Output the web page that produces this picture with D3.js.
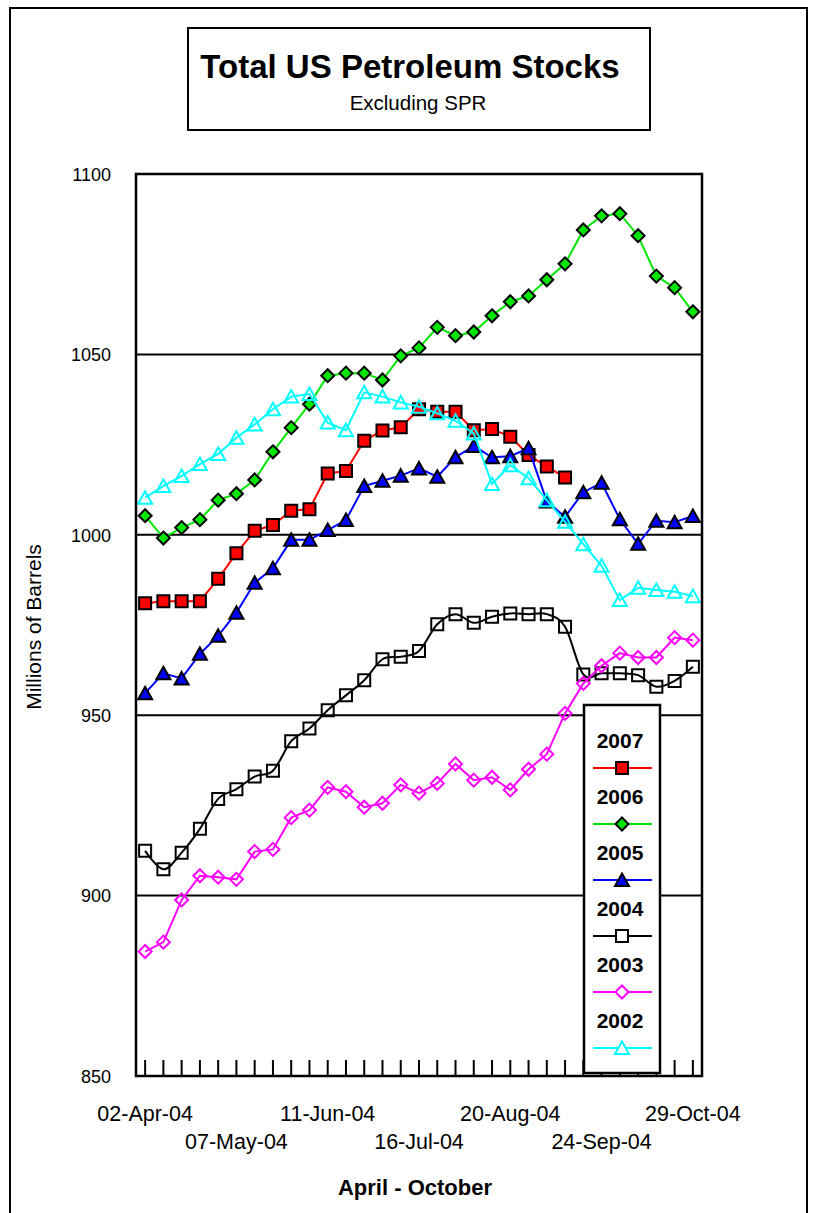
<!DOCTYPE html>
<html><head><meta charset="utf-8">
<script src="https://cdn.jsdelivr.net/npm/d3@7"></script>
<style>
body{margin:0;background:#fff}
svg{display:block}
text{font-family:"Liberation Sans",Arial,Helvetica,sans-serif;fill:#000}
</style>
</head><body>
<svg id="chart" width="813" height="1213"></svg>
<script>
// ---------- DATA ----------
const dates = ["02-Apr-04","09-Apr-04","16-Apr-04","23-Apr-04","30-Apr-04",
  "07-May-04","14-May-04","21-May-04","28-May-04",
  "04-Jun-04","11-Jun-04","18-Jun-04","25-Jun-04",
  "02-Jul-04","09-Jul-04","16-Jul-04","23-Jul-04","30-Jul-04",
  "06-Aug-04","13-Aug-04","20-Aug-04","27-Aug-04",
  "03-Sep-04","10-Sep-04","17-Sep-04","24-Sep-04",
  "01-Oct-04","08-Oct-04","15-Oct-04","22-Oct-04","29-Oct-04"];
const xTickLabels = ["02-Apr-04","07-May-04","11-Jun-04","16-Jul-04","20-Aug-04","24-Sep-04","29-Oct-04"];
const yTickValues = [850, 900, 950, 1000, 1050, 1100];
const seriesNames = ["2007","2006","2005","2004","2003","2002"];

const s2007 = [981.0, 981.6, 981.6, 981.6, 987.8, 994.9, 1001.1, 1002.7, 1006.7, 1007.1,
  1017.0, 1017.7, 1026.1, 1028.9, 1029.8, 1034.8, 1034.1, 1034.1, 1029.0, 1029.3,
  1027.2, 1022.1, 1018.9, 1015.9];
const s2006 = [1005.3, 999.1, 1002.0, 1004.2, 1009.6, 1011.4, 1015.2, 1023.0, 1029.7, 1036.2,
  1044.1, 1044.8, 1044.8, 1042.9, 1049.6, 1051.8, 1057.5, 1055.2, 1056.2, 1060.7,
  1064.6, 1066.2, 1070.7, 1075.1, 1084.5, 1088.4, 1089.0, 1082.9, 1071.7, 1068.5, 1061.8];
const s2005 = [956.1, 961.6, 960.2, 967.0, 972.0, 978.4, 986.7, 990.7, 998.6, 998.6,
  1001.3, 1004.1, 1013.5, 1015.0, 1016.4, 1018.4, 1016.1, 1021.5, 1024.6, 1021.5,
  1021.8, 1024.0, 1009.2, 1005.0, 1011.8, 1014.4, 1004.3, 997.5, 1003.9, 1003.5, 1005.2];
const s2004 = [912.4, 907.3, 911.9, 918.5, 926.8, 929.5, 933.0, 934.6, 942.8, 946.3,
  951.4, 955.5, 959.7, 965.5, 966.2, 967.8, 975.2, 978.0, 975.6, 977.3,
  978.2, 978.0, 978.0, 974.5, 961.3, 961.6, 961.6, 961.1, 957.9, 959.5, 963.4];
const s2003 = [884.5, 887.1, 898.8, 905.5, 905.1, 904.5, 912.2, 912.8, 921.6, 923.7,
  930.0, 928.8, 924.5, 925.6, 930.7, 928.4, 931.1, 936.5, 932.0, 932.8,
  929.3, 935.0, 939.2, 950.5, 958.8, 963.7, 967.2, 966.0, 966.0, 971.5, 970.8];
const s2002 = [1010.3, 1013.5, 1016.3, 1019.6, 1022.4, 1026.9, 1030.6, 1034.8, 1038.3, 1039.0,
  1031.1, 1029.0, 1039.5, 1038.3, 1036.7, 1035.5, 1033.7, 1031.6, 1028.1, 1014.1,
  1019.3, 1015.7, 1009.6, 1003.6, 997.4, 991.4, 981.9, 985.3, 984.7, 984.2, 983.0];

// ---------- STYLES ----------
const shapes = {
  square: "M-6,-6H6V6H-6Z",
  diamond: "M0,-6.5L6.5,0L0,6.5L-6.5,0Z",
  triangle: "M0,-6.5L7,6L-7,6Z"
};
const styles = {
  "2007": {values: s2007, line: "#FF0000", fill: "#FF0000", mstroke: "#000", shape: "square", smooth: false},
  "2006": {values: s2006, line: "#00E600", fill: "#00E600", mstroke: "#000", shape: "diamond", smooth: false},
  "2005": {values: s2005, line: "#0000FF", fill: "#0000FF", mstroke: "#000", shape: "triangle", smooth: false},
  "2004": {values: s2004, line: "#000000", fill: "none", mstroke: "#000", shape: "square", smooth: true},
  "2003": {values: s2003, line: "#FF00FF", fill: "none", mstroke: "#FF00FF", shape: "diamond", smooth: false},
  "2002": {values: s2002, line: "#00FFFF", fill: "none", mstroke: "#00FFFF", shape: "triangle", smooth: false}
};

// ---------- LAYOUT ----------
const svg = d3.select("#chart");
const plot = {left: 136, right: 702, top: 174, bottom: 1076};

const x = d3.scalePoint().domain(dates).range([plot.left, plot.right]).padding(0.5);
const y = d3.scaleLinear().domain([850, 1100]).range([plot.bottom, plot.top]);

// outer frame
svg.append("rect").attr("x", 10).attr("y", 8).attr("width", 797).attr("height", 1230)
  .attr("fill", "#fff").attr("stroke", "#000").attr("stroke-width", 2);

// title box
svg.append("rect").attr("x", 188).attr("y", 28).attr("width", 462).attr("height", 102)
  .attr("fill", "#fff").attr("stroke", "#000").attr("stroke-width", 2);
svg.append("text").attr("x", 410).attr("y", 78).attr("text-anchor", "middle")
  .style("font-size", "33px").style("font-weight", "bold").text("Total US Petroleum Stocks");
svg.append("text").attr("x", 418).attr("y", 110).attr("text-anchor", "middle")
  .style("font-size", "20.5px").text("Excluding SPR");

// plot background
svg.append("rect").attr("x", plot.left).attr("y", plot.top)
  .attr("width", plot.right - plot.left).attr("height", plot.bottom - plot.top)
  .attr("fill", "#fff");

// gridlines
svg.append("g").selectAll("line").data(yTickValues.filter(v => v > 850 && v < 1100)).join("line")
  .attr("x1", plot.left).attr("x2", plot.right)
  .attr("y1", d => y(d)).attr("y2", d => y(d))
  .attr("stroke", "#000").attr("stroke-width", 2);

// y axis labels
const yAxis = d3.axisLeft(y).tickValues(yTickValues).tickSize(0).tickPadding(0).tickFormat(d3.format("d"));
const gy = svg.append("g").attr("transform", `translate(${plot.left - 25},0)`).call(yAxis);
gy.select(".domain").remove();
gy.selectAll("text").style("font-size", "18px").attr("dy", "0.35em")
  .style("font-family", '"Liberation Sans",Arial,sans-serif').attr("fill", "#000");

// x tick marks (inside, upward)
svg.append("g").selectAll("line").data(dates).join("line")
  .attr("x1", d => x(d)).attr("x2", d => x(d))
  .attr("y1", plot.bottom).attr("y2", plot.bottom - 16)
  .attr("stroke", "#000").attr("stroke-width", 2);

// series
const lineGen = d3.line().x((d, i) => x(dates[i])).y(d => y(d));
const layer = svg.append("g");
seriesNames.forEach(name => {
  const st = styles[name];
  const g = layer.append("g");
  g.append("path").datum(st.values)
    .attr("d", lineGen.curve(st.smooth ? d3.curveCardinal.tension(0) : d3.curveLinear))
    .attr("fill", "none").attr("stroke", st.line).attr("stroke-width", 2);
  g.selectAll("path.m").data(st.values).join("path").attr("class", "m")
    .attr("d", shapes[st.shape])
    .attr("transform", (d, i) => `translate(${x(dates[i])},${y(d)})`)
    .attr("fill", st.fill).attr("stroke", st.mstroke).attr("stroke-width", 2);
});

// plot border
svg.append("rect").attr("x", plot.left).attr("y", plot.top)
  .attr("width", plot.right - plot.left).attr("height", plot.bottom - plot.top)
  .attr("fill", "none").attr("stroke", "#000").attr("stroke-width", 2.5);

// x labels
xTickLabels.forEach((lab, k) => {
  svg.append("text").attr("x", x(lab)).attr("y", k % 2 === 0 ? 1121 : 1149)
    .attr("text-anchor", "middle").style("font-size", "21.5px").text(lab);
});

// axis titles
svg.append("text").attr("x", 415).attr("y", 1195).attr("text-anchor", "middle")
  .style("font-size", "22px").style("font-weight", "bold").text("April - October");
svg.append("text").attr("transform", "translate(41,627) rotate(-90)")
  .attr("text-anchor", "middle").style("font-size", "21px").text("Millions of Barrels");

// legend
const lg = svg.append("g");
lg.append("rect").attr("x", 584).attr("y", 705).attr("width", 76).attr("height", 368)
  .attr("fill", "#fff").attr("stroke", "#000").attr("stroke-width", 2.5);
seriesNames.forEach((name, i) => {
  const st = styles[name];
  const base = 748 + i * 56;
  lg.append("text").attr("x", 620).attr("y", base).attr("text-anchor", "middle")
    .style("font-size", "21px").style("font-weight", "bold").text(name);
  lg.append("line").attr("x1", 593).attr("x2", 652).attr("y1", base + 20).attr("y2", base + 20)
    .attr("stroke", st.line).attr("stroke-width", 2);
  lg.append("path").attr("d", shapes[st.shape])
    .attr("transform", `translate(622,${base + 20})`)
    .attr("fill", st.fill === "none" ? "#fff" : st.fill).attr("stroke", st.mstroke).attr("stroke-width", 2);
});
</script>
</body></html>
